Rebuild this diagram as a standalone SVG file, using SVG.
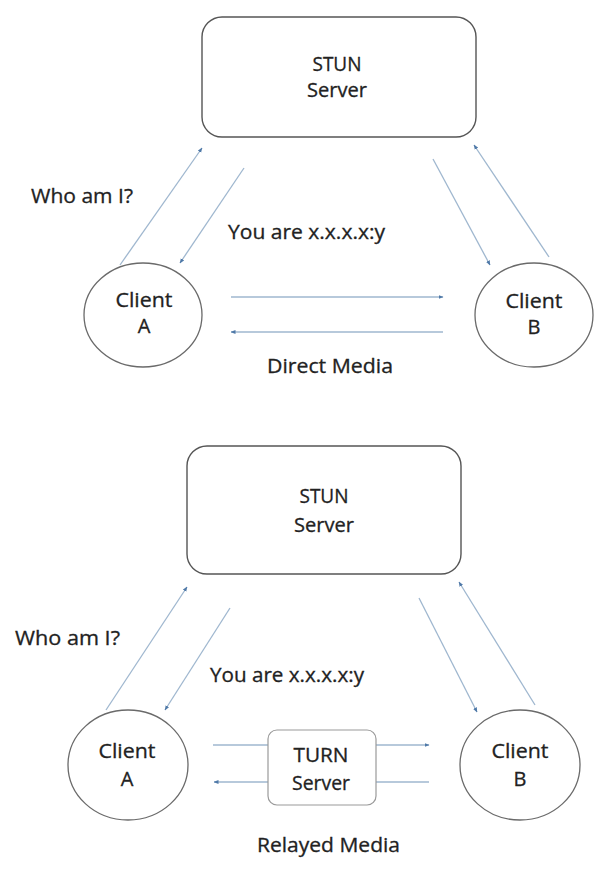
<svg xmlns="http://www.w3.org/2000/svg" width="604" height="871" viewBox="0 0 604 871">
<style>
.bg{fill:#ffffff}
.box{fill:#ffffff;stroke:#555555;stroke-width:1.4}
.tbox{fill:#ffffff;stroke:#9a9a9a;stroke-width:1.2}
.cl{fill:#ffffff;stroke:#6a6a6a;stroke-width:1.3}
.t{font-family:"Open Sans","Liberation Sans",sans-serif;font-size:20px;fill:#222222;stroke:#222222;stroke-width:0.3}
.m{text-anchor:middle}
.c{stroke:#9fb7cf;stroke-width:1.3;fill:none}
.a{marker-end:url(#ah)}
</style>
<defs>
<marker id="ah" viewBox="0 0 10 10" refX="9" refY="5" markerWidth="5" markerHeight="5" orient="auto" markerUnits="userSpaceOnUse">
<path d="M0,1 L10,5 L0,9 z" fill="#4f79a8"/>
</marker>
</defs>
<rect class="bg" x="0" y="0" width="604" height="871"/>

<g id="connectors">
<line class="c a" x1="120" y1="265" x2="202" y2="148"/>
<line class="c a" x1="244" y1="168" x2="180" y2="263"/>
<line class="c a" x1="433" y1="159" x2="490" y2="265"/>
<line class="c a" x1="549" y1="257" x2="474" y2="145"/>
<line class="c a" x1="231" y1="297" x2="443" y2="297"/>
<line class="c a" x1="443" y1="332" x2="231" y2="332"/>

<line class="c a" x1="106" y1="710" x2="187" y2="587"/>
<line class="c a" x1="230" y1="608" x2="165" y2="710"/>
<line class="c a" x1="419" y1="598" x2="477" y2="712"/>
<line class="c a" x1="535" y1="705" x2="459" y2="582"/>
<line class="c" x1="213" y1="745" x2="268" y2="745"/>
<line class="c a" x1="376" y1="745" x2="429" y2="745"/>
<line class="c" x1="429" y1="782" x2="376" y2="782"/>
<line class="c a" x1="268" y1="782" x2="214" y2="782"/>
</g>

<g id="stun1">
<rect class="box" x="202" y="17" width="274" height="120" rx="20" ry="20"/>
<text class="t m" x="337" y="71" textLength="49" lengthAdjust="spacingAndGlyphs">STUN</text>
<text class="t m" x="337" y="97" textLength="60" lengthAdjust="spacingAndGlyphs">Server</text>
</g>
<g id="clientA1">
<ellipse class="cl" cx="143" cy="315" rx="59" ry="52"/>
<text class="t m" x="144" y="307" textLength="57" lengthAdjust="spacingAndGlyphs">Client</text>
<text class="t m" x="144" y="333">A</text>
</g>
<g id="clientB1">
<ellipse class="cl" cx="534" cy="315" rx="59" ry="52"/>
<text class="t m" x="534" y="308" textLength="57" lengthAdjust="spacingAndGlyphs">Client</text>
<text class="t m" x="534" y="334">B</text>
</g>
<g id="labels1">
<text class="t" x="31" y="203" textLength="102" lengthAdjust="spacingAndGlyphs">Who am I?</text>
<text class="t" x="228" y="239" textLength="157" lengthAdjust="spacingAndGlyphs">You are x.x.x.x:y</text>
<text class="t" x="267" y="373" textLength="126" lengthAdjust="spacingAndGlyphs">Direct Media</text>
</g>

<g id="stun2">
<rect class="box" x="187" y="446" width="274" height="128" rx="20" ry="20"/>
<text class="t m" x="324" y="503" textLength="49" lengthAdjust="spacingAndGlyphs">STUN</text>
<text class="t m" x="324" y="532" textLength="60" lengthAdjust="spacingAndGlyphs">Server</text>
</g>
<g id="turn">
<rect class="tbox" x="268" y="730" width="108" height="75" rx="9" ry="9"/>
<text class="t m" x="321" y="762" textLength="55" lengthAdjust="spacingAndGlyphs">TURN</text>
<text class="t m" x="321" y="790" textLength="58" lengthAdjust="spacingAndGlyphs">Server</text>
</g>
<g id="clientA2">
<ellipse class="cl" cx="128" cy="765" rx="60" ry="55"/>
<text class="t m" x="127" y="758" textLength="57" lengthAdjust="spacingAndGlyphs">Client</text>
<text class="t m" x="127" y="786">A</text>
</g>
<g id="clientB2">
<ellipse class="cl" cx="520" cy="765" rx="60" ry="55"/>
<text class="t m" x="520" y="758" textLength="57" lengthAdjust="spacingAndGlyphs">Client</text>
<text class="t m" x="520" y="786">B</text>
</g>
<g id="labels2">
<text class="t" x="15" y="645" textLength="105" lengthAdjust="spacingAndGlyphs">Who am I?</text>
<text class="t" x="210" y="682" textLength="154" lengthAdjust="spacingAndGlyphs">You are x.x.x.x:y</text>
<text class="t" x="257" y="852" textLength="143" lengthAdjust="spacingAndGlyphs">Relayed Media</text>
</g>
</svg>
